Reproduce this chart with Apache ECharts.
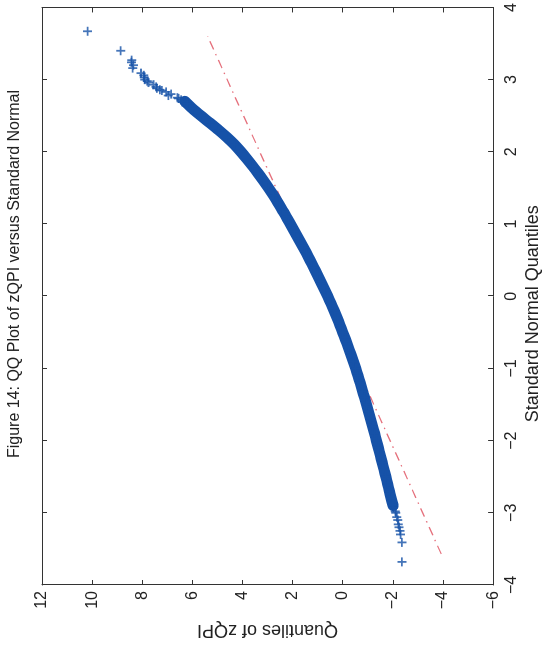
<!DOCTYPE html>
<html>
<head>
<meta charset="utf-8">
<script src="https://cdn.jsdelivr.net/npm/echarts@6/dist/echarts.min.js"></script>
<style>
  html, body { margin: 0; padding: 0; background: #fff; }
  #wrap { position: relative; width: 547px; height: 656px; overflow: hidden; }
  /* the figure is printed sideways: draw it upright, then turn the box */
  #chart {
    position: absolute; left: 0; top: 0;
    width: 656px; height: 547px;
    transform-origin: 0 0;
    transform: translate(0, 656px) rotate(-90deg);
  }
</style>
</head>
<body>
<div id="wrap"><div id="chart"></div></div>
<script>
// standard normal quantiles (x) and zQPI quantiles (y), sparse upper tail
var tailTopX = [3.67, 3.40, 3.27, 3.24, 3.20, 3.16, 3.09, 3.06, 3.03, 3.00, 2.98, 2.96, 2.93, 2.90,
                2.88, 2.86, 2.85, 2.83, 2.80, 2.78, 2.75, 2.74, 2.72, 2.69, 2.67];
var tailTopY = [10.18, 8.86, 8.42, 8.43, 8.35, 8.38, 8.05, 7.94, 7.92, 7.90, 7.80, 7.75, 7.55, 7.45,
                7.42, 7.30, 7.22, 7.05, 6.85, 6.96, 6.60, 6.55, 6.45, 6.40, 6.20];
// sparse lower tail
var tailLowX = [-3.68, -3.41, -3.30, -3.25, -3.20, -3.16, -3.10, -3.06, -3.00, -2.98, -2.93, -2.88];
var tailLowY = [-2.36, -2.36, -2.31, -2.29, -2.25, -2.22, -2.20, -2.16, -2.12, -2.10, -2.03, -1.97];
// dense body of the plot
var bodyX = [-2.9, -2.8, -2.7, -2.6, -2.5, -2.4, -2.3, -2.2, -2.1, -2.0,
             -1.9, -1.8, -1.7, -1.6, -1.5, -1.4, -1.3, -1.2, -1.1, -1.0,
             -0.9, -0.8, -0.7, -0.6, -0.5, -0.4, -0.3, -0.2, -0.1, 0.0,
             0.1, 0.2, 0.3, 0.4, 0.5, 0.6, 0.7, 0.8, 0.9, 1.0,
             1.1, 1.2, 1.3, 1.4, 1.5, 1.6, 1.7, 1.8, 1.9, 2.0,
             2.1, 2.2, 2.3, 2.4, 2.5, 2.6, 2.7];
var bodyY = [-2.01, -1.93, -1.86, -1.79, -1.72, -1.645, -1.57, -1.495, -1.42, -1.345,
             -1.27, -1.19, -1.11, -1.03, -0.95, -0.865, -0.78, -0.695, -0.605, -0.515,
             -0.42, -0.32, -0.215, -0.11, 0.0, 0.11, 0.225, 0.345, 0.47, 0.60,
             0.735, 0.875, 1.015, 1.16, 1.305, 1.455, 1.61, 1.77, 1.93, 2.09,
             2.25, 2.42, 2.59, 2.77, 2.96, 3.16, 3.37, 3.59, 3.82, 4.06,
             4.32, 4.62, 4.95, 5.30, 5.66, 6.00, 6.30];
// reference line end points
var refX = [-3.57, 3.60];
var refY = [-3.93, 5.39];

var xTicks = {min: -4, max: 4, step: 1};
var yTicks = {min: -6, max: 12, step: 2};

var BLUE = '#1652a8';
var PLUS = 'path://M4,0H6V4H10V6H6V10H4V6H0V4H4Z';
var FONT = 'Liberation Sans, Arial, Helvetica, sans-serif';

function pairs(xs, ys) {
  var out = [];
  for (var i = 0; i < xs.length; i++) out.push([xs[i], ys[i]]);
  return out;
}
function minus(v) { return String(v).replace('-', '\u2212'); }

var chart = echarts.init(document.getElementById('chart'));

var axisLine = { show: true, onZero: false, lineStyle: { color: '#333', width: 1 } };
var axisTick = { show: true, inside: true, length: 5, lineStyle: { color: '#333' } };

chart.setOption({
  animation: false,
  backgroundColor: '#fff',
  textStyle: { fontFamily: FONT },
  graphic: [{
    type: 'text',
    x: 382, y: 15,
    style: {
      text: 'Figure 14: QQ Plot of zQPI versus Standard Normal',
      font: '16px ' + FONT,
      fill: '#222',
      textAlign: 'center',
      textVerticalAlign: 'middle'
    }
  }],
  grid: { left: 71, right: 2, top: 42, bottom: 47 },
  xAxis: [{
    type: 'value', position: 'bottom',
    min: xTicks.min, max: xTicks.max, interval: xTicks.step,
    axisLine: axisLine, axisTick: axisTick, splitLine: { show: false },
    axisLabel: { color: '#222', fontSize: 16, margin: 10, formatter: minus },
    name: 'Standard Normal Quantiles', nameLocation: 'middle', nameGap: 26,
    nameTextStyle: { color: '#222', fontSize: 18, padding: [0, 35, 0, 0] }
  }, {
    type: 'value', position: 'top',
    min: xTicks.min, max: xTicks.max, interval: xTicks.step,
    axisLine: axisLine, axisTick: axisTick, splitLine: { show: false },
    axisLabel: { show: false }
  }],
  yAxis: [{
    type: 'value', position: 'left',
    min: yTicks.min, max: yTicks.max, interval: yTicks.step,
    axisLine: axisLine, axisTick: axisTick, splitLine: { show: false },
    axisLabel: { color: '#222', fontSize: 16, margin: 6, formatter: minus },
    name: 'Quantiles of zQPI', nameLocation: 'middle', nameGap: 36,
    nameTextStyle: { color: '#222', fontSize: 18 }
  }, {
    type: 'value', position: 'right',
    min: yTicks.min, max: yTicks.max, interval: yTicks.step,
    axisLine: axisLine, axisTick: axisTick, splitLine: { show: false },
    axisLabel: { show: false }
  }],
  series: [{
    type: 'line',
    data: pairs(refX, refY),
    symbol: 'none',
    lineStyle: { color: '#e5707c', width: 1.3, type: [9, 5, 1.5, 5] },
    z: 1
  }, {
    type: 'line',
    data: pairs(bodyX, bodyY),
    symbol: 'none',
    smooth: 0.3,
    lineStyle: { color: BLUE, width: 11, cap: 'round', join: 'round' },
    z: 2
  }, {
    type: 'scatter',
    data: pairs(bodyX, bodyY).concat(pairs(tailTopX, tailTopY), pairs(tailLowX, tailLowY)),
    symbol: PLUS,
    symbolSize: 9,
    itemStyle: { color: BLUE },
    z: 3
  }]
});
</script>
</body>
</html>
